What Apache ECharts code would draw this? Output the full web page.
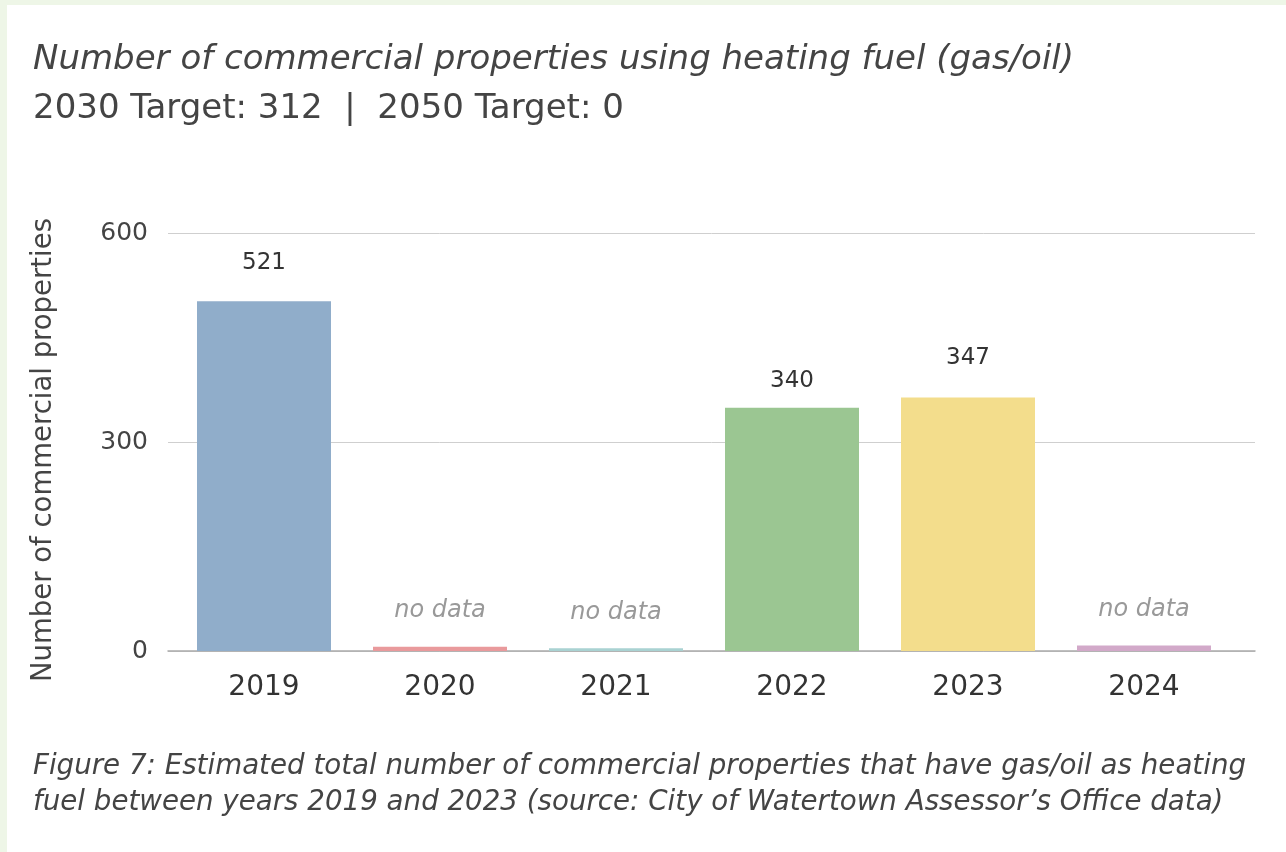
<!DOCTYPE html>
<html>
<head>
<meta charset="utf-8">
<script src="https://cdn.jsdelivr.net/npm/echarts@6/dist/echarts.min.js"></script>
<style>
html,body{margin:0;padding:0;background:#fff;}
#chart{width:1286px;height:852px;}
</style>
</head>
<body>
<div id="chart"></div>
<script>
// ---- data ----
const years = ['2019', '2020', '2021', '2022', '2023', '2024'];
const labelValues = [521, null, null, 340, 347, null];      // printed values
const drawnHeights = [502, 6, 4, 349, 364, 8];              // bar heights as drawn in the picture
const barColors = ['#90adca', '#e99a9c', '#a9d2d2', '#9bc692', '#f3dd8c', '#d2a9c9'];
const labelGaps = [27, 24, 23, 15, 28, 24];
const yTicks = [0, 300, 600];
const noDataText = 'no data';

const FONT = 'DejaVu Sans';
const textColor = '#444';

const chart = echarts.init(document.getElementById('chart'));

const barData = years.map((y, i) => ({
  value: drawnHeights[i],
  itemStyle: { color: barColors[i] },
  label: labelValues[i] != null ? {
    show: true, position: 'top', distance: labelGaps[i],
    formatter: String(labelValues[i]),
    fontFamily: FONT, fontSize: 23, color: '#333'
  } : {
    show: true, position: 'top', distance: labelGaps[i],
    formatter: noDataText,
    fontFamily: FONT, fontSize: 24, fontStyle: 'italic', color: '#999'
  }
}));

chart.setOption({
  backgroundColor: '#ffffff',
  animation: false,
  graphic: [
    { type: 'rect', left: 0, top: 0, shape: { width: 7, height: 852 }, style: { fill: '#eef6e7' } },
    { type: 'rect', left: 0, top: 0, shape: { width: 1286, height: 5 }, style: { fill: '#eef6e7' } }
  ],
  title: [
    { text: 'Number of commercial properties using heating fuel (gas/oil)', left: 28, top: 38,
      textStyle: { fontFamily: FONT, fontSize: 34, fontStyle: 'italic', fontWeight: 'normal', color: textColor } },
    { text: '2030 Target: 312  |  2050 Target: 0', left: 28, top: 87,
      textStyle: { fontFamily: FONT, fontSize: 34, fontWeight: 'normal', color: textColor } },
    { text: 'Figure 7: Estimated total number of commercial properties that have gas/oil as heating\nfuel between years 2019 and 2023 (source: City of Watertown Assessor\u2019s Office data)',
      left: 28, top: 744,
      textStyle: { fontFamily: FONT, fontSize: 27.7, fontStyle: 'italic', fontWeight: 'normal', color: textColor, lineHeight: 36 } }
  ],
  grid: [
    { left: 168, right: 31, top: 233, bottom: 201 },
    { left: 176, right: 54, top: 233, bottom: 201 }
  ],
  xAxis: [
    { type: 'category', gridIndex: 0, data: years,
      axisLine: { show: true, lineStyle: { color: '#aaa', width: 1.5 } },
      axisTick: { show: false }, axisLabel: { show: false }, splitLine: { show: false } },
    { type: 'category', gridIndex: 1, data: years,
      axisLine: { show: false }, axisTick: { show: false },
      axisLabel: { show: true, margin: 23, fontFamily: FONT, fontSize: 28, color: '#333' } }
  ],
  yAxis: [
    { type: 'value', gridIndex: 0, min: 0, max: 600, interval: 300,
      name: 'Number of commercial properties', nameLocation: 'middle', nameRotate: 90, nameGap: 110,
      nameTextStyle: { fontFamily: FONT, fontSize: 27.5, color: textColor, padding: [0, 16, 0, 0] },
      axisLine: { show: false }, axisTick: { show: false },
      axisLabel: { margin: 20, fontFamily: FONT, fontSize: 25, color: textColor,
        formatter: v => yTicks.includes(v) ? String(v) : '' },
      splitLine: { show: true, lineStyle: { color: '#cfcfcf', width: 1 } } },
    { type: 'value', gridIndex: 1, min: 0, max: 600, interval: 300, show: false, splitLine: { show: false } }
  ],
  series: [
    { type: 'bar', xAxisIndex: 1, yAxisIndex: 1, data: barData, barWidth: 134 }
  ]
});
</script>
</body>
</html>
